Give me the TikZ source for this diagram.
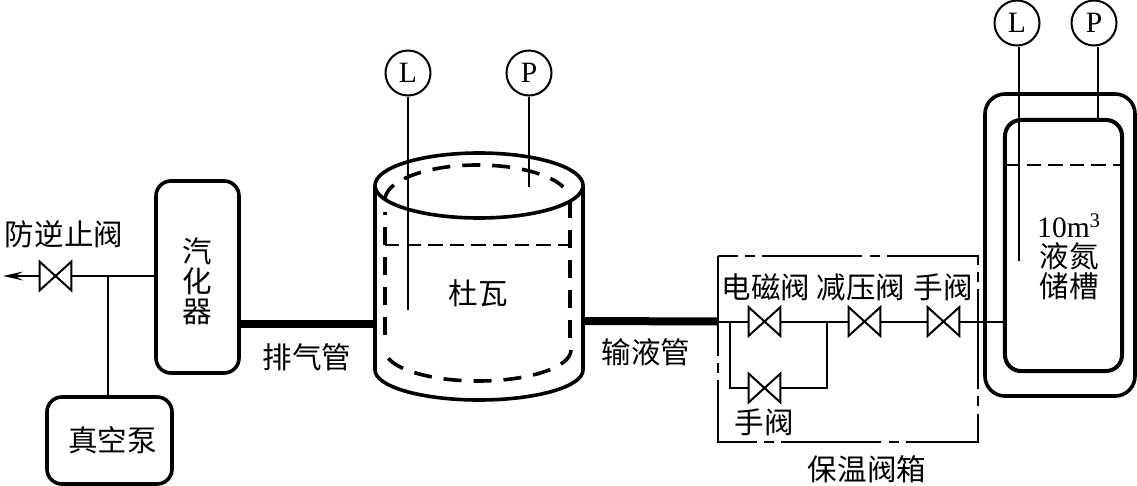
\documentclass[tikz,border=0pt]{standalone}
\usepackage{xcolor}
\usepackage{fontspec}
\setmainfont{Liberation Serif}
\newfontfamily\cjk{Noto Sans CJK SC}
\usetikzlibrary{arrows.meta, positioning}

\tikzset{
  thinline/.style={line width=0.05cm},
  wall/.style={line width=0.09cm},
  pipe/.style={line width=0.2cm},
  liner/.style={line width=0.09cm, dash pattern=on 0.45cm off 0.3cm},
  level/.style={line width=0.035cm, dash pattern=on 0.36cm off 0.18cm},
  cnlabel/.style={font=\cjk\fontsize{21}{21.3}\selectfont, inner sep=0pt, align=center},
  procbox/.style={draw, wall, rounded corners=0.375cm, cnlabel},
  gauge/.style={draw, thinline, circle, minimum size=1.125cm, inner sep=0pt, font=\fontsize{21}{21}\selectfont},
  valvebox/.style={minimum width=0.775cm, minimum height=0.7cm, inner sep=0pt}
}

\newcommand{\valve}[3]{%
  \node[valvebox] (#1) at (#2, #3) {};
  \draw[thinline] (#1.south west) -- (#1.north east) -- (#1.south east) -- (#1.north west) -- cycle;
}

\begin{document}
\begin{tikzpicture}[x=0.025cm, y=-0.025cm]
  \useasboundingbox (0, 0) rectangle (1137, 486);

  % Boxes
  \node[procbox, minimum width=2.075cm, minimum height=4.8cm] (vaporizer) at (197.5, 277) {\rule{0pt}{24pt}汽\\化\\器};
  \node[procbox, minimum width=3.125cm, minimum height=2.175cm] (pump) at (109.5, 440.5) {\hspace*{0.15cm}真空泵};

  % Dewar
  \coordinate (dewarin) at (375, 324);
  \coordinate (dewarout) at (583, 321);
  \draw[wall] (479, 185.5) ellipse [x radius=104, y radius=32.5];
  \draw[wall] (375, 185.5) -- (375, 370) arc[start angle=180, end angle=0, x radius=104, y radius=30] -- (583, 185.5);
  \draw[liner] (385, 200) arc[start angle=180, end angle=338, x radius=92.5, y radius=35];
  \draw[liner] (570, 200) -- (570, 345);
  \draw[liner] (571, 350) arc[start angle=0, end angle=180, x radius=93, y radius=31];
  \draw[liner] (385, 335) -- (385, 212);
  \draw[level] (385, 245) -- (570, 245);
  \node[cnlabel] (dewarlabel) at (478, 293) {杜瓦};

  % Dewar gauges
  \node[gauge] (dewarL) at (408, 73) {L};
  \node[gauge] (dewarP) at (529, 73) {P};
  \coordinate (dewarLend) at (408, 310);
  \coordinate (dewarPend) at (529, 187);
  \draw[thinline] (dewarL) -- (dewarLend);
  \draw[thinline] (dewarP) -- (dewarPend);

  % Left branch
  \valve{checkvalve}{55.5}{276}
  \coordinate (vent) at (3, 276);
  \coordinate (tee) at (108, 276);
  \draw[thinline] (checkvalve.east) -- (vaporizer.west |- checkvalve.east);
  \draw[thinline] (tee) -- (tee |- pump.north);
  \draw[thinline, -{Stealth[length=0.5cm, width=0.22cm, inset=0.2cm]}] (checkvalve.west) -- (vent);
  \node[cnlabel] (checklabel) at (64, 234) {防逆止阀};

  % Thick pipes
  \coordinate (boxin) at (717, 321.5);
  \draw[pipe] (vaporizer.east |- dewarin) -- (dewarin);
  \draw[pipe] (dewarout) -- (boxin);
  \node[cnlabel] (exhaustlabel) at (307, 357) {排气管};
  \node[cnlabel] (feedlabel) at (646, 352) {输液管};

  % Valve box
  \draw[thinline, dash pattern=on 2.5cm off 0.18cm on 0.25cm off 0.18cm] (718, 256) rectangle (978, 441.5);
  \node[cnlabel] (boxlabel) at (867, 469) {保温阀箱};

  % Valves
  \valve{solenoid}{764.5}{321.5}
  \valve{reducer}{864.5}{321.5}
  \valve{handvalve}{943.5}{321.5}
  \valve{bypass}{764.5}{388}
  \node[cnlabel] (solenoidlabel) at (766, 287) {电磁阀};
  \node[cnlabel] (reducerlabel) at (861, 287) {减压阀};
  \node[cnlabel] (handlabel) at (943, 287) {手阀};
  \node[cnlabel] (bypasslabel) at (764, 422) {手阀};

  % Storage tank
  \node[draw, wall, rounded corners=0.5cm, minimum width=3.75cm, minimum height=7.55cm] (tankouter) at (1060, 245) {};
  \node[draw, line width=0.1cm, rounded corners=0.4cm, minimum width=2.925cm, minimum height=6.275cm, cnlabel] (tank) at (1063.5, 245.5) {};
  \node[cnlabel] (tanklabel) at (1069, 257) {{\rmfamily 10m\textsuperscript{3}}\\液氮\\储槽};
  \coordinate (levelleft) at (1005, 165);
  \coordinate (levelright) at (1122, 165);
  \draw[level] (levelleft) -- (levelright);

  % Tank gauges
  \node[gauge] (tankL) at (1017, 23) {L};
  \node[gauge] (tankP) at (1094, 23) {P};
  \coordinate (tankLend) at (1019, 261);
  \coordinate (tankPend) at (1097.5, 120);
  \draw[thinline] (tankLend |- tankL.south) -- (tankLend);
  \draw[thinline] (tankPend |- tankP.south) -- (tankPend);

  % Small pipes
  \coordinate (bypassleft) at (730, 321.5);
  \coordinate (bypassright) at (827, 321.5);
  \draw[thinline] (boxin) -- (solenoid.west);
  \draw[thinline] (solenoid.east) -- (reducer.west);
  \draw[thinline] (reducer.east) -- (handvalve.west);
  \draw[thinline] (handvalve.east) -- (tank.west |- handvalve.east);
  \draw[thinline] (bypassleft) |- (bypass.west);
  \draw[thinline] (bypass.east) -| (bypassright);
\end{tikzpicture}
\end{document}
